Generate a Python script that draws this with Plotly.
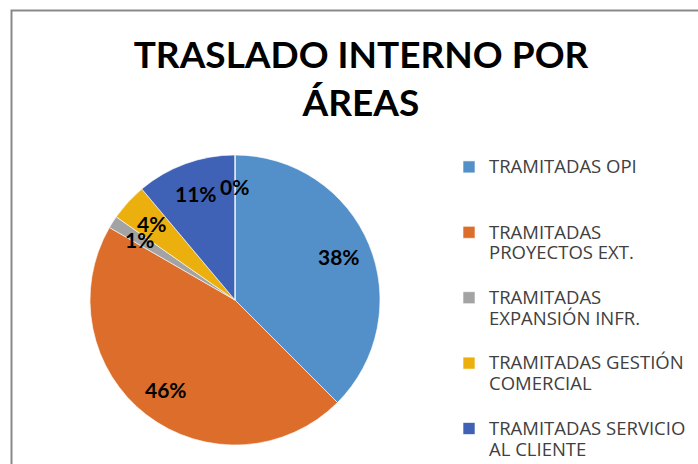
import math
import plotly.graph_objects as go

categories = [
    "TRAMITADAS OPI",
    "TRAMITADAS<br>PROYECTOS EXT.",
    "TRAMITADAS<br>EXPANSIÓN INFR.",
    "TRAMITADAS GESTIÓN<br>COMERCIAL",
    "TRAMITADAS SERVICIO<br>AL CLIENTE",
    "TRAMITADAS OTRAS",
]
values = [27, 33, 1, 3, 8, 0]
colors = ["#5390CA", "#DC6D2A", "#A3A3A3", "#EBB00E", "#3F62B6", "#70AD47"]

W, H = 698, 464
cx, cy, R = 235, 300, 145


def legend_text(label):
    lines = label.split("<br>")
    while len(lines) < 3:
        lines.append(" ")
    return "<br>".join(f'<span style="font-size:18.5px">{ln}</span>' for ln in lines)


legend_labels = [legend_text(c) for c in categories]

fig = go.Figure(go.Pie(
    labels=legend_labels,
    values=values,
    sort=False,
    direction="clockwise",
    rotation=0,
    marker=dict(colors=colors, line=dict(color="rgba(255,255,255,0.6)", width=1)),
    textinfo="none",
    domain=dict(x=[(cx - R) / W, (cx + R) / W], y=[(H - cy - R) / H, (H - cy + R) / H]),
    hoverinfo="percent",
))

# percentage labels placed at the middle angle of each slice
total = sum(values)
annotations = []
cum = 0
for v in values:
    mid = (cum + v / 2) / total * 2 * math.pi
    cum += v
    r = 0.78 * R
    ax = cx + r * math.sin(mid)
    ay = (H - cy) + r * math.cos(mid)
    annotations.append(dict(
        x=ax / W, y=ay / H, xref="paper", yref="paper",
        text=f"{round(v / total * 100)}%", showarrow=False,
        xanchor="center", yanchor="middle",
        font=dict(family="Lato", size=21, color="black", weight="bold"),
    ))

fig.update_layout(
    width=W, height=H,
    margin=dict(l=0, r=0, t=0, b=0, autoexpand=False),
    paper_bgcolor="white",
    annotations=annotations,
    title=dict(
        text="<b>TRASLADO INTERNO POR<br>ÁREAS</b>",
        x=361 / W, xanchor="center", xref="paper",
        y=1 - 68 / H, yanchor="top", yref="container",
        font=dict(family="Lato", size=37, color="black"),
    ),
    legend=dict(
        x=449 / W, xanchor="left", y=1 - 150 / H, yanchor="top",
        font=dict(family="Open Sans", size=16, color="#404040"),
        valign="top",
        bgcolor="rgba(0,0,0,0)",
        traceorder="normal",
    ),
    shapes=[dict(type="rect", xref="paper", yref="paper",
                 x0=11.5 / W, x1=1.2, y0=-0.2, y1=1 - 10.5 / H,
                 line=dict(color="#898989", width=2), fillcolor="rgba(0,0,0,0)")],
)

fig.write_html("out.html")
